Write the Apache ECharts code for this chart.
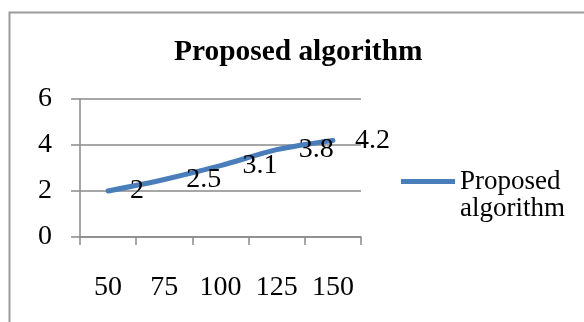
<!DOCTYPE html>
<html>
<head>
<meta charset="utf-8">
<script src="https://cdn.jsdelivr.net/npm/echarts@6/dist/echarts.min.js"></script>
<style>html,body{margin:0;padding:0;background:#fff}#c{width:584px;height:322px}</style>
</head>
<body>
<div id="c"></div>
<script>
const categories = ['50', '75', '100', '125', '150'];
const seriesName = 'Proposed algorithm';
const values = [2, 2.5, 3.1, 3.8, 4.2];
const yTicks = [0, 2, 4, 6];

const FONT = '"Liberation Serif", "Times New Roman", serif';
const GRAY = '#8a8a8a';
const chart = echarts.init(document.getElementById('c'), null, {renderer: 'canvas'});
chart.setOption({
  animation: false,
  backgroundColor: '#fff',
  graphic: [{
    type: 'rect', left: 7, top: 10, silent: true,
    shape: {width: 700, height: 400},
    style: {fill: 'none', stroke: '#9a9a9a', lineWidth: 2}
  }],
  title: {
    text: seriesName, left: 174, top: 38, padding: 0,
    textStyle: {fontFamily: FONT, fontSize: 29.4, fontWeight: 'bold', color: '#000'}
  },
  legend: {
    left: 401, top: 141, padding: 0,
    icon: 'rect', itemWidth: 54, itemHeight: 5, itemGap: 5,
    formatter: n => ' \n' + n.replace(' ', '\n'),
    textStyle: {fontFamily: FONT, fontSize: 27, lineHeight: 27, color: '#000'},
    data: [seriesName]
  },
  grid: {left: 80, right: 223, top: 99, bottom: 85, containLabel: false},
  xAxis: {
    type: 'category', data: categories, boundaryGap: true,
    axisLine: {lineStyle: {color: GRAY, width: 1.5}},
    axisTick: {show: true, length: 8, lineStyle: {color: GRAY, width: 1.5}},
    axisLabel: {fontFamily: FONT, fontSize: 28, color: '#000', margin: 37}
  },
  yAxis: {
    type: 'value', min: yTicks[0], max: yTicks[yTicks.length - 1], interval: 2,
    axisLine: {show: true, lineStyle: {color: GRAY, width: 1.5}},
    axisTick: {show: true, length: 9, lineStyle: {color: GRAY, width: 1.5}},
    splitLine: {lineStyle: {color: GRAY, width: 1.5}},
    axisLabel: {fontFamily: FONT, fontSize: 28, color: '#000', margin: 28}
  },
  series: [{
    name: seriesName, type: 'line', data: values, smooth: 0.3,
    showSymbol: true, symbol: 'circle', symbolSize: 0,
    lineStyle: {color: '#4a7ebb', width: 5, cap: 'round'},
    itemStyle: {color: '#4a7ebb'},
    label: {show: true, position: 'right', distance: 22, fontFamily: FONT, fontSize: 28, color: '#000'}
  }]
});
</script>
</body>
</html>
